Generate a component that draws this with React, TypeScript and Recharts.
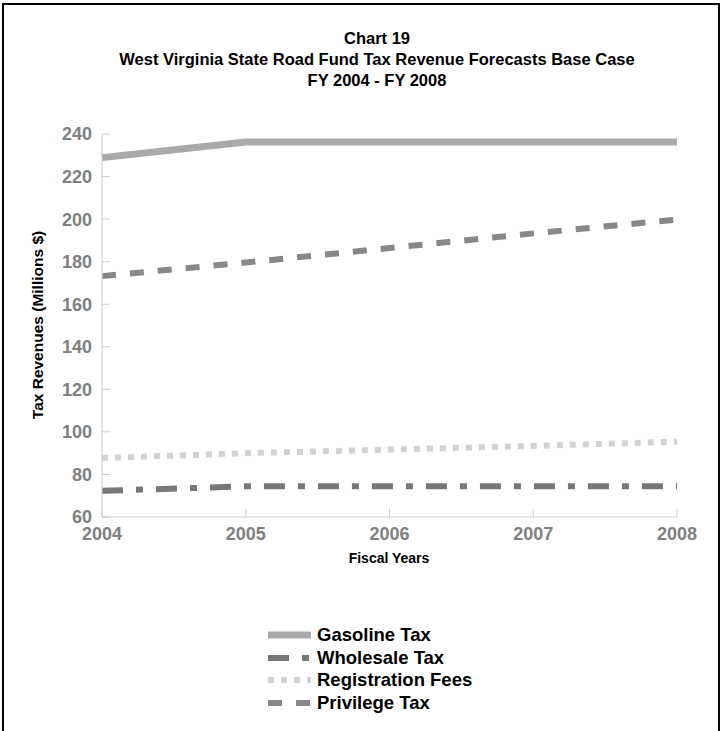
import React from 'react'
import { LineChart, Line, XAxis, YAxis, Legend } from 'recharts'

const years = ['2004', '2005', '2006', '2007', '2008']
const gasolineTax = [228.9, 236.2, 236.2, 236.2, 236.2]
const wholesaleTax = [72.3, 74.4, 74.4, 74.4, 74.4]
const registrationFees = [87.7, 90.0, 91.7, 93.4, 95.4]
const privilegeTax = [173.2, 179.6, 186.4, 193.3, 199.8]
const yTicks = [60, 80, 100, 120, 140, 160, 180, 200, 220, 240]

const series = [
  { key: 'gasoline', name: 'Gasoline Tax', color: '#a9a9a9', width: 7, dash: undefined },
  { key: 'wholesale', name: 'Wholesale Tax', color: '#777777', width: 6, dash: '21 13 7 13' },
  { key: 'registration', name: 'Registration Fees', color: '#d2d2d2', width: 6, dash: '6 7' },
  { key: 'privilege', name: 'Privilege Tax', color: '#888888', width: 6, dash: '14 14' },
]

const data = years.map((year, i) => ({
  year,
  gasoline: gasolineTax[i],
  wholesale: wholesaleTax[i],
  registration: registrationFees[i],
  privilege: privilegeTax[i],
}))

const font = '"Liberation Sans", Arial, sans-serif'

const tickStyle = {
  fill: '#808080',
  fontSize: 18,
  fontWeight: 700,
  fontFamily: font,
}

const LegendBox = () => (
  <div style={{ fontFamily: font }}>
    {series.map((s) => (
      <div key={s.key} style={{ display: 'flex', alignItems: 'center', height: 22.6 }}>
        <svg width={51} height={22} style={{ display: 'block' }}>
          <line
            x1={2}
            x2={45}
            y1={11}
            y2={11}
            stroke={s.color}
            strokeWidth={s.width}
            strokeDasharray={s.dash}
          />
        </svg>
        <span style={{ fontSize: 18.5, fontWeight: 700, color: '#000' }}>{s.name}</span>
      </div>
    ))}
  </div>
)

export default function App() {
  return (
    <div
      style={{
        position: 'absolute',
        left: 0,
        top: 0,
        width: 722,
        height: 731,
        overflow: 'hidden',
        background: '#fff',
        fontFamily: font,
      }}
    >
      {/* frame */}
      <div
        style={{
          position: 'absolute',
          left: 2,
          top: 3,
          width: 718,
          height: 760,
          border: '2px solid #000',
          boxSizing: 'border-box',
        }}
      />

      {/* title */}
      <div
        style={{
          position: 'absolute',
          left: 0,
          top: 28,
          width: 754,
          textAlign: 'center',
          fontSize: 16.5,
          fontWeight: 700,
          lineHeight: '21px',
          color: '#000',
        }}
      >
        <div>Chart 19</div>
        <div>West Virginia State Road Fund Tax Revenue Forecasts Base Case</div>
        <div>FY 2004 - FY 2008</div>
      </div>

      <div style={{ position: 'absolute', left: 0, top: 0 }}>
        <LineChart
          width={722}
          height={731}
          data={data}
          margin={{ top: 134, right: 45, bottom: 184, left: 42 }}
        >
          <XAxis
            dataKey="year"
            height={30}
            stroke="#cccccc"
            tickSize={-8}
            tickMargin={18}
            tick={tickStyle}
            interval={0}
          />
          <YAxis
            type="number"
            domain={[60, 240]}
            ticks={yTicks}
            width={60}
            stroke="#cccccc"
            tickSize={-8}
            tickMargin={18}
            tick={tickStyle}
            interval={0}
          />
          {series.map((s) => (
            <Line
              key={s.key}
              type="linear"
              dataKey={s.key}
              name={s.name}
              stroke={s.color}
              strokeWidth={s.width}
              strokeDasharray={s.dash}
              dot={false}
              activeDot={false}
              isAnimationActive={false}
            />
          ))}
          <Legend
            layout="vertical"
            align="center"
            verticalAlign="middle"
            content={() => <LegendBox />}
            wrapperStyle={{ left: 266, top: 624, width: 260 }}
          />
        </LineChart>
      </div>

      {/* axis titles */}
      <div
        style={{
          position: 'absolute',
          left: 38,
          top: 325,
          transform: 'translate(-50%, -50%) rotate(-90deg)',
          whiteSpace: 'nowrap',
          fontSize: 15.5,
          fontWeight: 700,
          color: '#000',
        }}
      >
        Tax Revenues (Millions $)
      </div>
      <div
        style={{
          position: 'absolute',
          left: 389,
          top: 558,
          transform: 'translate(-50%, -50%)',
          whiteSpace: 'nowrap',
          fontSize: 14,
          fontWeight: 700,
          color: '#000',
        }}
      >
        Fiscal Years
      </div>
    </div>
  )
}
